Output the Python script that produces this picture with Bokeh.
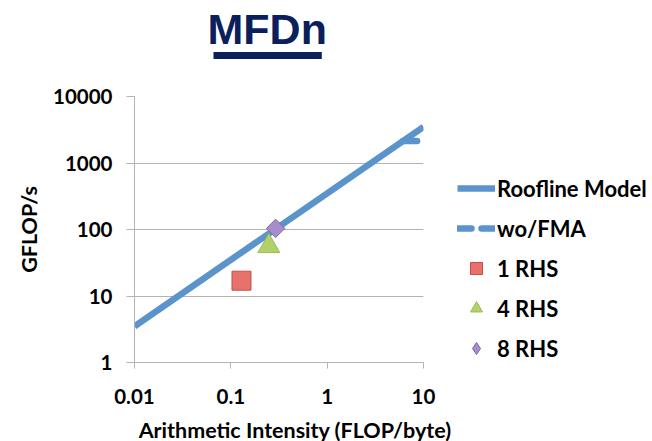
import math
from bokeh.plotting import figure
from bokeh.models import FixedTicker, Legend, LegendItem, Title
from bokeh.embed import file_html
from bokeh.resources import INLINE

# ---- data ----
roof_ai = [0.01, 10]
roof_gflops = [3.5, 3500]
nofma_ai = [6.14, 10]
nofma_gflops = [2150, 2150]
rhs1_ai, rhs1_gf = [0.129], [17]
rhs4_ai, rhs4_gf = [0.248], [56]
rhs8_ai, rhs8_gf = [0.292], [104]
x_ticks = [0.01, 0.1, 1, 10]
x_tick_labels = ["0.01", "0.1", "1", "10"]
y_ticks = [1, 10, 100, 1000, 10000]
y_tick_labels = ["1", "10", "100", "1000", "10000"]

FONT = "Lato"
GRID = "#B3B3B3"
BLUE = "#5B93CB"
NAVY = "#0B1F5C"

main_title = Title(text="MFDn", align="left", offset=73,
                   text_font="Liberation Sans",
                   text_font_style="bold", text_font_size="43px",
                   text_color=NAVY, standoff=-80)

p = figure(frame_width=289, frame_height=266,
           x_axis_type="log", y_axis_type="log",
           x_range=(0.01, 10), y_range=(1, 10000),
           output_backend="svg", toolbar_location=None,
           min_border_left=134, min_border_right=229,
           min_border_top=96, min_border_bottom=79, title=main_title)
p.outline_line_color = None
p.background_fill_color = "white"

bar = Title(text=" ", text_font_size="1px", align="left", offset=79,
            background_fill_color=NAVY, background_fill_alpha=1,
            padding=(54, 54, 3, 3), standoff=75)
p.add_layout(bar, "above")

p.xgrid.grid_line_color = None
p.ygrid.grid_line_color = GRID
p.ygrid.ticker = FixedTicker(ticks=y_ticks)

for ax in (p.xaxis[0], p.yaxis[0]):
    ax.axis_line_color = GRID
    ax.major_tick_line_color = GRID
    ax.minor_tick_line_color = None
    ax.major_tick_in = 0
    ax.major_label_text_font = FONT
    ax.major_label_text_font_style = "bold"
    ax.major_label_text_font_size = "20.5px"
    ax.major_label_text_color = "black"
    ax.axis_label_text_font = FONT
    ax.axis_label_text_font_style = "bold"
    ax.axis_label_text_font_size = "21.5px"
    ax.axis_label_text_color = "black"

p.xaxis.ticker = FixedTicker(ticks=x_ticks)
p.xaxis.major_label_overrides = {t: l for t, l in zip(x_ticks, x_tick_labels)}
p.xaxis.major_tick_out = 6
p.xaxis.major_label_standoff = 20
p.xaxis.axis_label = "\u2003\u2003Arithmetic Intensity (FLOP/byte)"
p.xaxis.axis_label_standoff = 10

p.yaxis.ticker = FixedTicker(ticks=y_ticks)
p.yaxis.major_label_overrides = {t: l for t, l in zip(y_ticks, y_tick_labels)}
p.yaxis.major_tick_out = 8
p.yaxis.major_label_standoff = 14
p.yaxis.axis_label = "GFLOP/s"
p.yaxis.axis_label_standoff = 8

r_roof = p.line(roof_ai, roof_gflops, line_color=BLUE, line_width=6.5)
r_fma = p.line(nofma_ai, nofma_gflops, line_color=BLUE, line_width=6.5,
               line_dash="14 10", line_cap="round")
r1 = p.scatter(rhs1_ai, rhs1_gf, marker="square", size=19,
               fill_color="#E8716C", line_color="#C0504D", line_width=1)
r4 = p.scatter(rhs4_ai, rhs4_gf, marker="triangle", size=22,
               fill_color="#B3D16B", line_color="#9BBB59", line_width=1)
r8_leg = p.scatter(rhs8_ai, rhs8_gf, marker="diamond", size=16,
                   fill_color="#A68DCD", line_color="#8064A2", line_width=1)
r8 = p.scatter(rhs8_ai, rhs8_gf, marker="square", size=13, angle=math.pi / 4,
               fill_color="#A68DCD", line_color="#8064A2", line_width=1)

legend = Legend(items=[
    LegendItem(label="Roofline Model", renderers=[r_roof]),
    LegendItem(label="wo/FMA", renderers=[r_fma]),
    LegendItem(label="1 RHS", renderers=[r1]),
    LegendItem(label="4 RHS", renderers=[r4]),
    LegendItem(label="8 RHS", renderers=[r8_leg]),
], location=(34, -1))
legend.border_line_color = None
legend.background_fill_alpha = 0
legend.padding = 0
legend.margin = 0
legend.glyph_width = 38
legend.glyph_height = 30
legend.label_height = 20
legend.spacing = 10
legend.label_standoff = 2
legend.label_text_font = FONT
legend.label_text_font_style = "bold"
legend.label_text_font_size = "22px"
legend.label_text_color = "black"
p.add_layout(legend, "right")

open("out.html", "w").write(file_html(p, INLINE))
